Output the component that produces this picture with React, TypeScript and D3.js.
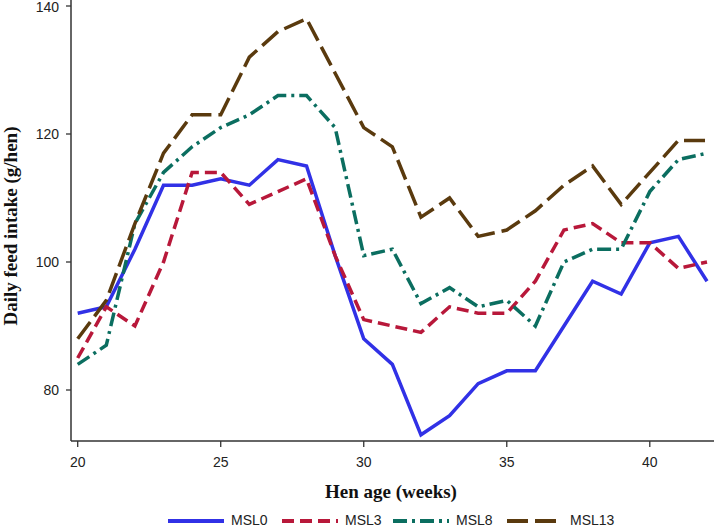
import { useEffect, useRef } from 'react';
import * as d3 from 'd3';

const weeks = [20, 21, 22, 23, 24, 25, 26, 27, 28, 29, 30, 31, 32, 33, 34, 35, 36, 37, 38, 39, 40, 41, 42];

const msl0 = [92, 93, 102, 112, 112, 113, 112, 116, 115, 101, 88, 84, 73, 76, 81, 83, 83, 90, 97, 95, 103, 104, 97];
const msl3 = [85, 93, 90, 100, 114, 114, 109, 111, 113, 101, 91, 90, 89, 93, 92, 92, 97, 105, 106, 103, 103, 99, 100];
const msl8 = [84, 87, 106, 114, 118, 121, 123, 126, 126, 121, 101, 102, 93.5, 96, 93, 94, 90, 100, 102, 102, 111, 116, 117];
const msl13 = [88, 94, 106, 117, 123, 123, 132, 136, 138, 129.5, 121, 118, 107, 110, 104, 105, 108, 112, 115, 109, 114, 119, 119];

const xTicks = [20, 25, 30, 35, 40];
const yTicks = [80, 100, 120, 140];

const seriesList = [
  { name: 'MSL0', values: msl0, color: '#3131e6', dash: 'none' },
  { name: 'MSL3', values: msl3, color: '#b8183a', dash: '12,6' },
  { name: 'MSL8', values: msl8, color: '#0b6e60', dash: '14,5,3,5' },
  { name: 'MSL13', values: msl13, color: '#5a3a0e', dash: '21,7' },
];

export default function App() {
  const chartRef = useRef<SVGSVGElement>(null);

  useEffect(() => {
    if (!chartRef.current) return;
    const svg = d3.select(chartRef.current);
    svg.selectAll('*').remove();

    const axisColor = '#333';
    const left = 71;
    const bottom = 441;
    const sans = 'Liberation Sans, Arial, sans-serif';
    const serif = 'Liberation Serif, Times New Roman, serif';

    const x = d3.scaleLinear().domain([20, 42]).range([77.7, 707]);
    const y = d3.scaleLinear().domain([80, 140]).range([390, 6]);

    // axis lines
    svg.append('line')
      .attr('x1', left).attr('x2', left)
      .attr('y1', 0).attr('y2', bottom)
      .attr('stroke', axisColor).attr('stroke-width', 1.5);
    svg.append('line')
      .attr('x1', left).attr('x2', 714)
      .attr('y1', bottom).attr('y2', bottom)
      .attr('stroke', axisColor).attr('stroke-width', 1.5);

    // y ticks
    const yt = svg.append('g');
    yt.selectAll('line').data(yTicks).enter().append('line')
      .attr('x1', left - 5).attr('x2', left)
      .attr('y1', d => y(d)).attr('y2', d => y(d))
      .attr('stroke', axisColor).attr('stroke-width', 1.3);
    yt.selectAll('text').data(yTicks).enter().append('text')
      .attr('x', left - 12).attr('y', d => Math.max(y(d), 7))
      .attr('dy', '0.35em')
      .attr('text-anchor', 'end')
      .attr('font-family', sans)
      .attr('font-size', 14)
      .attr('fill', '#222')
      .text(d => d);

    // x ticks
    const xt = svg.append('g');
    xt.selectAll('line').data(xTicks).enter().append('line')
      .attr('x1', d => x(d)).attr('x2', d => x(d))
      .attr('y1', bottom).attr('y2', bottom + 6)
      .attr('stroke', axisColor).attr('stroke-width', 1.3);
    xt.selectAll('text').data(xTicks).enter().append('text')
      .attr('x', d => x(d)).attr('y', 467)
      .attr('text-anchor', 'middle')
      .attr('font-family', sans)
      .attr('font-size', 14)
      .attr('fill', '#222')
      .text(d => d);

    // axis titles
    svg.append('text')
      .attr('x', 391).attr('y', 498)
      .attr('text-anchor', 'middle')
      .attr('font-family', serif)
      .attr('font-weight', 'bold')
      .attr('font-size', 19)
      .attr('fill', '#111')
      .text('Hen age (weeks)');
    svg.append('text')
      .attr('transform', 'translate(17,226) rotate(-90)')
      .attr('text-anchor', 'middle')
      .attr('font-family', serif)
      .attr('font-weight', 'bold')
      .attr('font-size', 19)
      .attr('fill', '#111')
      .text('Daily feed intake (g/hen)');

    // series lines
    const line = d3.line<number>()
      .x((_, i) => x(weeks[i]))
      .y(d => y(d));

    seriesList.forEach(s => {
      svg.append('path')
        .datum(s.values)
        .attr('fill', 'none')
        .attr('stroke', s.color)
        .attr('stroke-width', 3.5)
        .attr('stroke-dasharray', s.dash)
        .attr('stroke-linejoin', 'miter')
        .attr('d', line);
    });

    // legend along the bottom edge
    const legendX = [168, 282, 393, 507];
    const legend = svg.append('g');
    seriesList.forEach((s, i) => {
      legend.append('line')
        .attr('x1', legendX[i]).attr('x2', legendX[i] + 56)
        .attr('y1', 521).attr('y2', 521)
        .attr('stroke', s.color)
        .attr('stroke-width', 4)
        .attr('stroke-dasharray', s.dash);
      legend.append('text')
        .attr('x', legendX[i] + 63).attr('y', 525)
        .attr('font-family', sans)
        .attr('font-size', 14)
        .attr('fill', '#222')
        .text(s.name);
    });
  }, []);

  return (
    <svg
      ref={chartRef}
      width={714}
      height={528}
      style={{ position: 'absolute', left: 0, top: 0, background: '#fff' }}
    />
  );
}
